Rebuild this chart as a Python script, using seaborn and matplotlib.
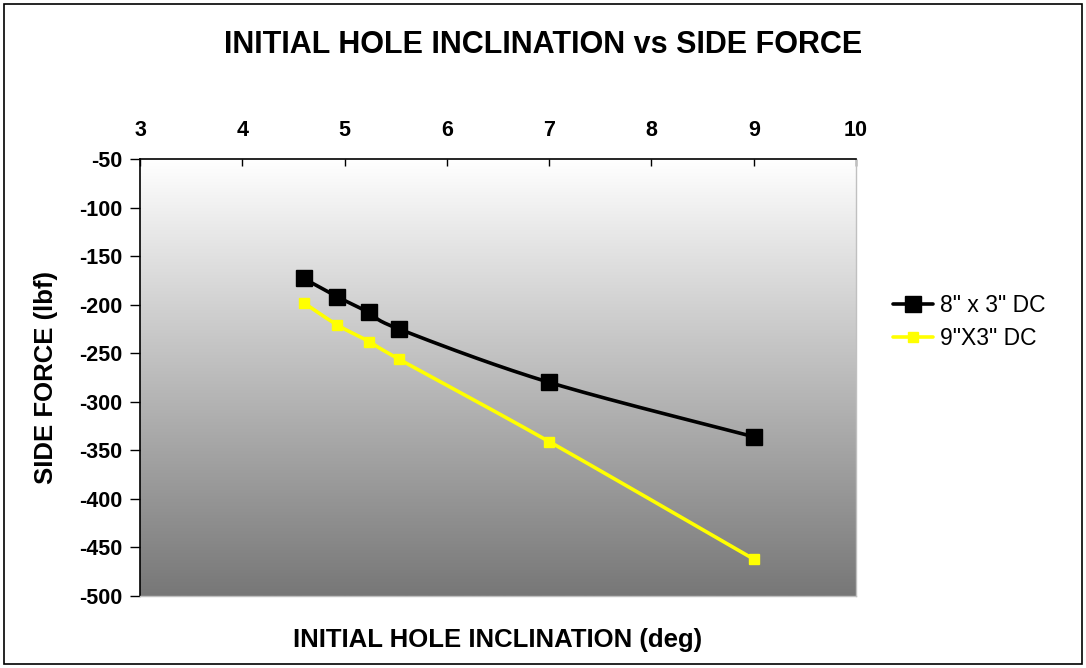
import numpy as np
import pandas as pd
import matplotlib
matplotlib.use("Agg")
import matplotlib.pyplot as plt
import seaborn as sns
from matplotlib.lines import Line2D
from matplotlib.colors import LinearSegmentedColormap
from matplotlib.patches import Rectangle

# ---- data ----
incl = [4.6, 4.93, 5.24, 5.53, 7.0, 9.0]
dc8x3 = [-173, -192, -208, -225, -280, -336]
dc9x3 = [-198, -221, -238, -256, -341, -462]
series_names = ['8" x 3" DC', '9"X3" DC']
x_ticks = [3, 4, 5, 6, 7, 8, 9, 10]
y_ticks = [-50, -100, -150, -200, -250, -300, -350, -400, -450, -500]

sns.set_theme(style="white")
plt.rcParams['font.family'] = ['Liberation Sans', 'DejaVu Sans']
plt.rcParams['axes.unicode_minus'] = False
plt.rcParams['text.color'] = 'black'
plt.rcParams['axes.labelcolor'] = 'black'
plt.rcParams['xtick.color'] = 'black'
plt.rcParams['ytick.color'] = 'black'


def smooth(x, y, xr, yr, n=30):
    """Excel-like Catmull-Rom smoothing computed from data (in normalized space)."""
    P = np.column_stack([(np.array(x) - xr[0]) / (xr[1] - xr[0]),
                         (np.array(y) - yr[0]) / (yr[1] - yr[0])])
    out = []
    for i in range(len(P) - 1):
        p0 = P[i - 1] if i > 0 else P[i]
        p1, p2 = P[i], P[i + 1]
        p3 = P[i + 2] if i + 2 < len(P) else P[i + 1]
        c1 = p1 + (p2 - p0) / 6
        c2 = p2 - (p3 - p1) / 6
        t = np.linspace(0, 1, n)[:, None]
        seg = ((1 - t) ** 3) * p1 + 3 * ((1 - t) ** 2) * t * c1 + 3 * (1 - t) * t ** 2 * c2 + t ** 3 * p2
        out.append(seg if i == 0 else seg[1:])
    S = np.vstack(out)
    return S[:, 0] * (xr[1] - xr[0]) + xr[0], S[:, 1] * (yr[1] - yr[0]) + yr[0]


fig = plt.figure(figsize=(10.86, 6.68), dpi=100)
fig.patch.set_facecolor('white')
ax = fig.add_axes([140 / 1086, 1 - 596 / 668, (856 - 140) / 1086, (596 - 159) / 668])

xr = (3, 10)
yr = (-500, -50)

# gradient background
grad = np.linspace(0, 1, 256).reshape(-1, 1)
cmap = LinearSegmentedColormap.from_list('g', ['#ffffff', '#777777'])
ax.imshow(grad, extent=[xr[0], xr[1], yr[0], yr[1]], aspect='auto', cmap=cmap,
          origin='upper', zorder=0)

# black series, smoothed
sx, sy = smooth(incl, dc8x3, xr, yr)
sns.lineplot(x=sx, y=sy, ax=ax, color='black', linewidth=2.6, sort=False,
             estimator=None, zorder=3)
ax.plot(incl, dc8x3, linestyle='none', marker='s', markersize=11,
        color='black', zorder=4)

# yellow series
yx, yy = smooth(incl, dc9x3, xr, yr)
sns.lineplot(x=yx, y=yy, ax=ax, color='#ffff00', linewidth=2.6, sort=False,
             estimator=None, zorder=3)
ax.plot(incl, dc9x3, linestyle='none', marker='s', markersize=7,
        color='#ffff00', zorder=4)

ax.set_xlim(*xr)
ax.set_ylim(*yr)
ax.set_xticks(x_ticks)
ax.set_yticks(y_ticks)
ax.xaxis.tick_top()
ax.xaxis.set_label_position('bottom')
ax.tick_params(axis='x', direction='in', length=5, width=1, color='black',
               labelsize=15.5, pad=13)
ax.tick_params(axis='y', direction='out', length=7, width=1, color='black',
               labelsize=15.5, pad=6, left=True)
for lab in ax.get_xticklabels() + ax.get_yticklabels():
    lab.set_fontweight('bold')

for s in ['top', 'left']:
    ax.spines[s].set_visible(True)
    ax.spines[s].set_color('black')
    ax.spines[s].set_linewidth(1.2)
for s in ['right', 'bottom']:
    ax.spines[s].set_visible(True)
    ax.spines[s].set_color('#c0c0c0')
    ax.spines[s].set_linewidth(1)
ax.grid(False)

ax.set_xlabel('INITIAL HOLE INCLINATION (deg)', fontsize=18.5, fontweight='bold')
ax.xaxis.set_label_coords(0.5, 1 - 640 / 668,
                          transform=matplotlib.transforms.blended_transform_factory(
                              ax.transAxes, fig.transFigure))
ax.xaxis.label.set_va('center')
ax.set_ylabel('SIDE FORCE (lbf)', fontsize=18.5, fontweight='bold')
ax.yaxis.set_label_coords(46 / 1086, (1 - 378 / 668), transform=fig.transFigure)
ax.yaxis.label.set_va('center')

fig.text(0.5, 1 - 45 / 668, 'INITIAL HOLE INCLINATION vs SIDE FORCE',
         ha='center', va='center', fontsize=22, fontweight='bold')

handles = [
    Line2D([0], [0], color='black', linewidth=2.6, marker='s', markersize=11),
    Line2D([0], [0], color='#ffff00', linewidth=2.6, marker='s', markersize=7),
]
fig.legend(handles, series_names, loc='center left',
           bbox_to_anchor=(893 / 1086, 1 - 322 / 668), frameon=False,
           fontsize=16.5, handlelength=1.75, handletextpad=0.3, labelspacing=0.45,
           borderpad=0, borderaxespad=0)

fig.add_artist(Rectangle((4 / 1086, 4 / 668), 1078 / 1086, 660 / 668,
                         transform=fig.transFigure, fill=False,
                         edgecolor='black', linewidth=1.2))

fig.savefig('out.png', dpi=100)
